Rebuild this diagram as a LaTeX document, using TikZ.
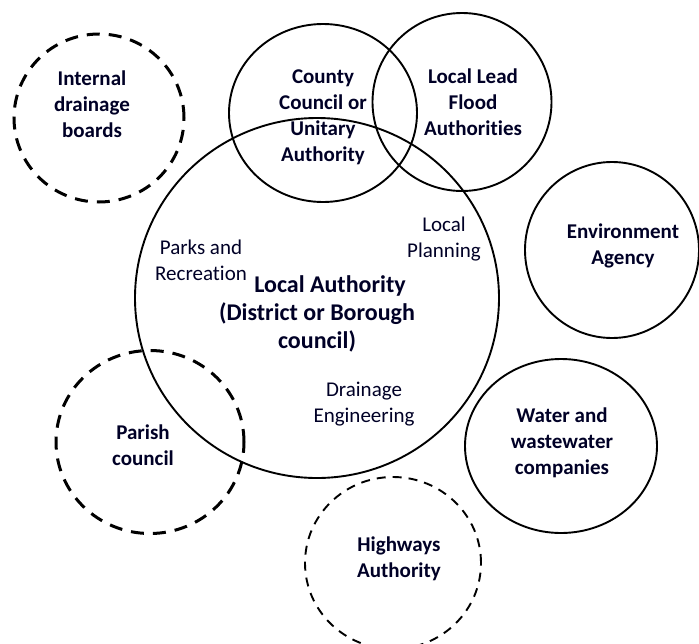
\documentclass[tikz,border=0pt]{standalone}
\usepackage{fontspec}
\setmainfont{Carlito}[Ligatures=NoCommon]
\usetikzlibrary{shapes.geometric}

\begin{document}
\begin{tikzpicture}[x=1pt,y=-1pt]

      \useasboundingbox (0,0) rectangle (699,643);

      % the circles
      \begin{scope}[every node/.style={ellipse,draw,line width=1.9pt,inner sep=0pt}]
        \node (la)    [minimum width=364, minimum height=360] at (317,298) {};
        \node (ccua)  [minimum width=188, minimum height=178] at (323,113) {};
        \node (llfa)  [minimum width=179, minimum height=178] at (462,102) {};
        \node (ea)    [minimum width=174, minimum height=176] at (612,250) {};
        \node (water) [minimum width=192, minimum height=174] at (561,446) {};
      \end{scope}

      \begin{scope}[every node/.style={ellipse,draw,line width=3pt,dash pattern=on 13pt off 9pt,inner sep=0pt}]
        \node (idb)    [minimum width=170, minimum height=168] at (99,118) {};
        \node (parish) [minimum width=188, minimum height=183] at (150,442) {};
      \end{scope}

      \node (hwy) [ellipse,draw,line width=1.9pt,dash pattern=on 9pt off 7pt,inner sep=0pt,
                   minimum width=176, minimum height=172] at (393,563) {};

      % the labels
      \begin{scope}[every node/.style={align=center,text=black!85!blue,font=\bfseries\fontsize{21}{26}\selectfont}]
        \node (idbtxt)    at (92,104)  {Internal\\drainage\\boards};
        \node (ccuatxt)   at (323,117) {County\\Council or\\Unitary\\Authority};
        \node (llfatxt)   at (473,102) {Local Lead\\Flood\\Authorities};
        \node (eatxt)     at (623,246) {Environment\\Agency};
        \node (watertxt)  at (562,443) {Water and\\wastewater\\companies};
        \node (parishtxt) at (143,445) {Parish\\council};
        \node (hwytxt)    at (399,559) {Highways\\Authority};
        \node (latxt) [font=\bfseries\fontsize{24}{28}\selectfont] at (317,314)
              {\hspace*{26pt}Local Authority\\(District or Borough\\council)};
      \end{scope}

      \begin{scope}[every node/.style={align=center,text=black!85!blue,font=\fontsize{21}{26}\selectfont}]
        \node (parks)    at (201,260) {Parks and\\Recreation};
        \node (planning) at (444,239) {Local\\Planning};
        \node (drainage) at (364,404) {Drainage\\Engineering};
      \end{scope}

    \end{tikzpicture}
\end{document}
